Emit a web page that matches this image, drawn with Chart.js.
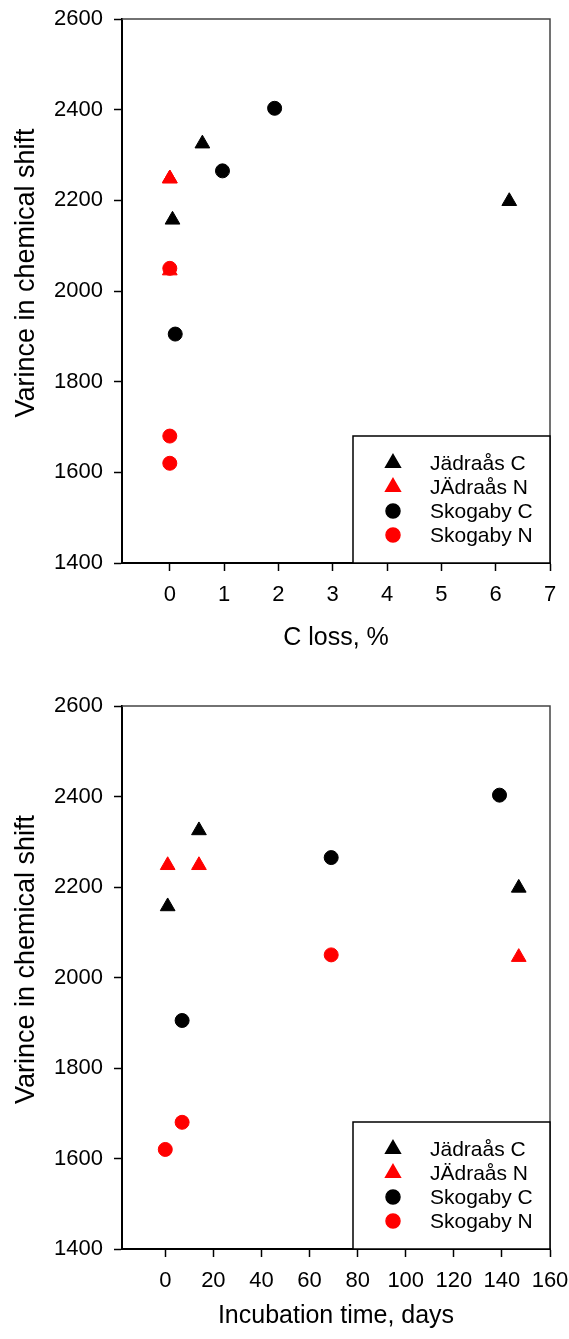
<!DOCTYPE html>
<html><head><meta charset="utf-8">
<script src="https://cdn.jsdelivr.net/npm/chart.js@4.4.1/dist/chart.umd.min.js"></script>
<style>html,body{margin:0;padding:0;background:#fff;} canvas{display:block;}</style>
</head><body>
<div style="width:569px;height:669px"><canvas id="c1" width="569" height="669"></canvas></div>
<div style="width:569px;height:670px"><canvas id="c2" width="569" height="670"></canvas></div>
<script>
// ---- data ----
const seriesNames = ['Jädraås C', 'JÄdraås N', 'Skogaby C', 'Skogaby N'];

const jadC_loss = [0.05, 0.6, 6.25];
const jadC_days = [1, 14, 147];
const jadC_var  = [2157, 2325, 2198];

const jadN_loss = [0, 0, 0];
const jadN_days = [1, 14, 147];
const jadN_var  = [2248, 2248, 2045];

const skoC_loss = [0.1, 0.97, 1.93];
const skoC_days = [7, 69, 139];
const skoC_var  = [1905, 2265, 2403];

const skoN_loss = [0, 0, 0];
const skoN_days = [0, 7, 69];
const skoN_var  = [1620, 1680, 2050];

const yTicks      = [1400, 1600, 1800, 2000, 2200, 2400, 2600];
const xTicksLoss  = [0, 1, 2, 3, 4, 5, 6, 7];
const xTicksDays  = [0, 20, 40, 60, 80, 100, 120, 140, 160];

const yTitle = 'Varince in chemical shift';
const xTitleLoss = 'C loss, %';
const xTitleDays = 'Incubation time, days';

// ---- helpers ----
const FONT = '"Liberation Sans", Arial, Helvetica, sans-serif';
function pts(xs, ys) { return xs.map((x, i) => ({x: x, y: ys[i]})); }

const styles = [
  {color: '#000000', pointStyle: 'triangle', radius: 8.5, order: 4},
  {color: '#ff0000', pointStyle: 'triangle', radius: 8.5, order: 3},
  {color: '#000000', pointStyle: 'circle',   radius: 7,   order: 2},
  {color: '#ff0000', pointStyle: 'circle',   radius: 7,   order: 1}
];

const boxLegend = {
  id: 'boxLegend',
  afterDraw(chart) {
    const ctx = chart.ctx, a = chart.chartArea;
    ctx.save();
    // top and right frame
    ctx.strokeStyle = '#444';
    ctx.lineWidth = 1.5;
    ctx.beginPath();
    ctx.moveTo(a.left, a.top); ctx.lineTo(a.right, a.top); ctx.lineTo(a.right, a.bottom);
    ctx.stroke();
    // y-axis title
    ctx.save();
    ctx.translate(27, (a.top + a.bottom) / 2 - 18);
    ctx.rotate(-Math.PI / 2);
    ctx.fillStyle = '#000';
    ctx.font = '27px ' + FONT;
    ctx.textAlign = 'center';
    ctx.textBaseline = 'middle';
    ctx.fillText(yTitle, 0, 0);
    ctx.restore();
    // legend box
    const bw = 197, bh = 127;
    const bx = a.right - bw, by = a.bottom - bh;
    ctx.fillStyle = '#fff';
    ctx.fillRect(bx, by, bw, bh);
    ctx.strokeStyle = '#000';
    ctx.lineWidth = 1.5;
    ctx.strokeRect(bx, by, bw, bh);
    ctx.font = '21px ' + FONT;
    ctx.textBaseline = 'middle';
    ctx.textAlign = 'left';
    chart.data.datasets.forEach((ds, i) => {
      const cy = a.bottom - 100 + i * 24;
      ctx.fillStyle = ds.pointBackgroundColor;
      ctx.strokeStyle = ds.pointBorderColor;
      Chart.helpers.drawPoint(ctx, {pointStyle: ds.pointStyle, radius: ds.pointRadius, borderWidth: 1, rotation: 0}, bx + 40, cy);
      ctx.fillStyle = '#000';
      ctx.fillText(ds.label, bx + 77, cy + 1);
    });
    ctx.restore();
  }
};

function makeChart(id, xsList, xTitle, xMin, xMax, xTicks, padTop, xScaleH, xTitlePadBottom) {
  const ysList = [jadC_var, jadN_var, skoC_var, skoN_var];
  const datasets = seriesNames.map((name, i) => ({
    label: name,
    data: pts(xsList[i], ysList[i]),
    pointStyle: styles[i].pointStyle,
    pointRadius: styles[i].radius,
    pointHoverRadius: styles[i].radius,
    pointBackgroundColor: styles[i].color,
    pointBorderColor: styles[i].color,
    pointBorderWidth: 1,
    showLine: false,
    order: styles[i].order
  }));
  return new Chart(document.getElementById(id), {
    type: 'scatter',
    data: {datasets: datasets},
    plugins: [boxLegend],
    options: {
      responsive: false,
      animation: false,
      devicePixelRatio: 1,
      layout: {padding: {top: padTop, right: 19, left: 0, bottom: 0}},
      plugins: {legend: {display: false}, tooltip: {enabled: false}},
      scales: {
        x: {
          type: 'linear', position: 'bottom', min: xMin, max: xMax,
          afterFit(s) { s.height = xScaleH; s.paddingLeft = 0; s.paddingRight = 0; },
          afterBuildTicks(s) { s.ticks = xTicks.map(v => ({value: v})); },
          border: {display: true, color: '#000', width: 2},
          grid: {display: true, drawOnChartArea: false, drawTicks: true, tickLength: 8, tickColor: '#000', tickWidth: 1.5},
          ticks: {color: '#000', font: {family: FONT, size: 22}, padding: 11, maxRotation: 0, autoSkip: false,
                  callback: v => String(v)},
          title: {display: true, text: xTitle, color: '#000', font: {family: FONT, size: 25}, padding: {top: 0, bottom: xTitlePadBottom}}
        },
        y: {
          type: 'linear', position: 'left', min: 1400, max: 2600,
          afterFit(s) { s.width = 122; s.paddingTop = 0; s.paddingBottom = 0; },
          afterBuildTicks(s) { s.ticks = yTicks.map(v => ({value: v})); },
          border: {display: true, color: '#000', width: 2},
          grid: {display: true, drawOnChartArea: false, drawTicks: true, tickLength: 8, tickColor: '#000', tickWidth: 1.5},
          ticks: {color: '#000', font: {family: FONT, size: 22}, padding: 11, autoSkip: false,
                  callback: v => String(v)},
          title: {display: false, text: yTitle}
        }
      }
    }
  });
}

makeChart('c1', [jadC_loss, jadN_loss, skoC_loss, skoN_loss], xTitleLoss, -0.88, 7, xTicksLoss, 19, 106, 16);
makeChart('c2', [jadC_days, jadN_days, skoC_days, skoN_days], xTitleDays, -18, 160, xTicksDays, 37, 90, 8);
</script>
</body></html>
